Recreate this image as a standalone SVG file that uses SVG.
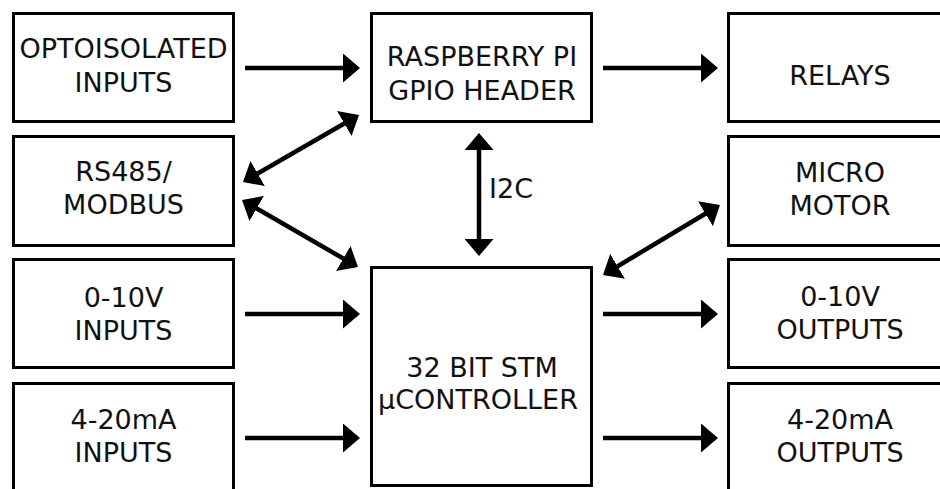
<svg xmlns="http://www.w3.org/2000/svg" width="940" height="489" viewBox="0 0 940 489">
<style>
.box{fill:#fff;stroke:#000;stroke-width:3}
.t{font-family:"DejaVu Sans","Verdana",sans-serif;font-size:27px;fill:#111;text-anchor:middle}
.c{stroke:#000;stroke-width:4.5;fill:none}
.one{marker-end:url(#ah)}
.two{marker-start:url(#ah);marker-end:url(#ah)}
</style>
<defs>
<marker id="ah" markerUnits="userSpaceOnUse" viewBox="0 0 17 29" markerWidth="17" markerHeight="29" refX="14" refY="14.5" orient="auto-start-reverse">
<path d="M0,0 L17,14.5 L0,29 Z" fill="#000"/>
</marker>
</defs>
<rect width="940" height="489" fill="#fff"/>
<g id="opto"><rect class="box" x="13.5" y="13.5" width="220" height="108"/><text class="t" x="123.5" y="58">OPTOISOLATED</text><text class="t" x="123.5" y="92">INPUTS</text></g>
<g id="rs485"><rect class="box" x="13.5" y="136.5" width="220" height="109"/><text class="t" x="123.5" y="181">RS485/</text><text class="t" x="123.5" y="214">MODBUS</text></g>
<g id="in010"><rect class="box" x="13.5" y="259.5" width="220" height="108"/><text class="t" x="123.5" y="307">0-10V</text><text class="t" x="123.5" y="340">INPUTS</text></g>
<g id="in420"><rect class="box" x="13.5" y="383.5" width="220" height="120"/><text class="t" x="123.5" y="429">4-20mA</text><text class="t" x="123.5" y="462">INPUTS</text></g>
<g id="rpi"><rect class="box" x="371.5" y="13.5" width="220" height="108"/><text class="t" x="482" y="66">RASPBERRY PI</text><text class="t" x="482" y="100">GPIO HEADER</text></g>
<g id="stm"><rect class="box" x="371.5" y="267.5" width="220" height="218"/><text class="t" x="482" y="377">32 BIT STM</text><text class="t" x="478" y="409">μCONTROLLER</text></g>
<g id="relays"><rect class="box" x="728.5" y="13.5" width="240" height="108"/><text class="t" x="840" y="85">RELAYS</text></g>
<g id="motor"><rect class="box" x="728.5" y="136.5" width="240" height="109"/><text class="t" x="840" y="182">MICRO</text><text class="t" x="840" y="215">MOTOR</text></g>
<g id="out010"><rect class="box" x="728.5" y="259.5" width="240" height="108"/><text class="t" x="840" y="306">0-10V</text><text class="t" x="840" y="339">OUTPUTS</text></g>
<g id="out420"><rect class="box" x="728.5" y="383.5" width="240" height="120"/><text class="t" x="840" y="429">4-20mA</text><text class="t" x="840" y="462">OUTPUTS</text></g>
<g id="connectors">
<line class="c one" x1="245" y1="68" x2="357" y2="68"/>
<line class="c one" x1="603" y1="68" x2="715" y2="68"/>
<line class="c one" x1="245" y1="314" x2="357" y2="314"/>
<line class="c one" x1="245" y1="438" x2="357" y2="438"/>
<line class="c one" x1="603" y1="314" x2="715" y2="314"/>
<line class="c one" x1="603" y1="438" x2="715" y2="438"/>
<line class="c two" x1="479" y1="136" x2="479" y2="253"/>
<line class="c two" x1="245.6" y1="180.5" x2="356.4" y2="116.5"/>
<line class="c two" x1="244.6" y1="201.5" x2="355.4" y2="265.5"/>
<line class="c two" x1="605.6" y1="273.5" x2="717.4" y2="206.5"/>
<text class="t" x="489" y="198" style="text-anchor:start">I2C</text>
</g>
</svg>
